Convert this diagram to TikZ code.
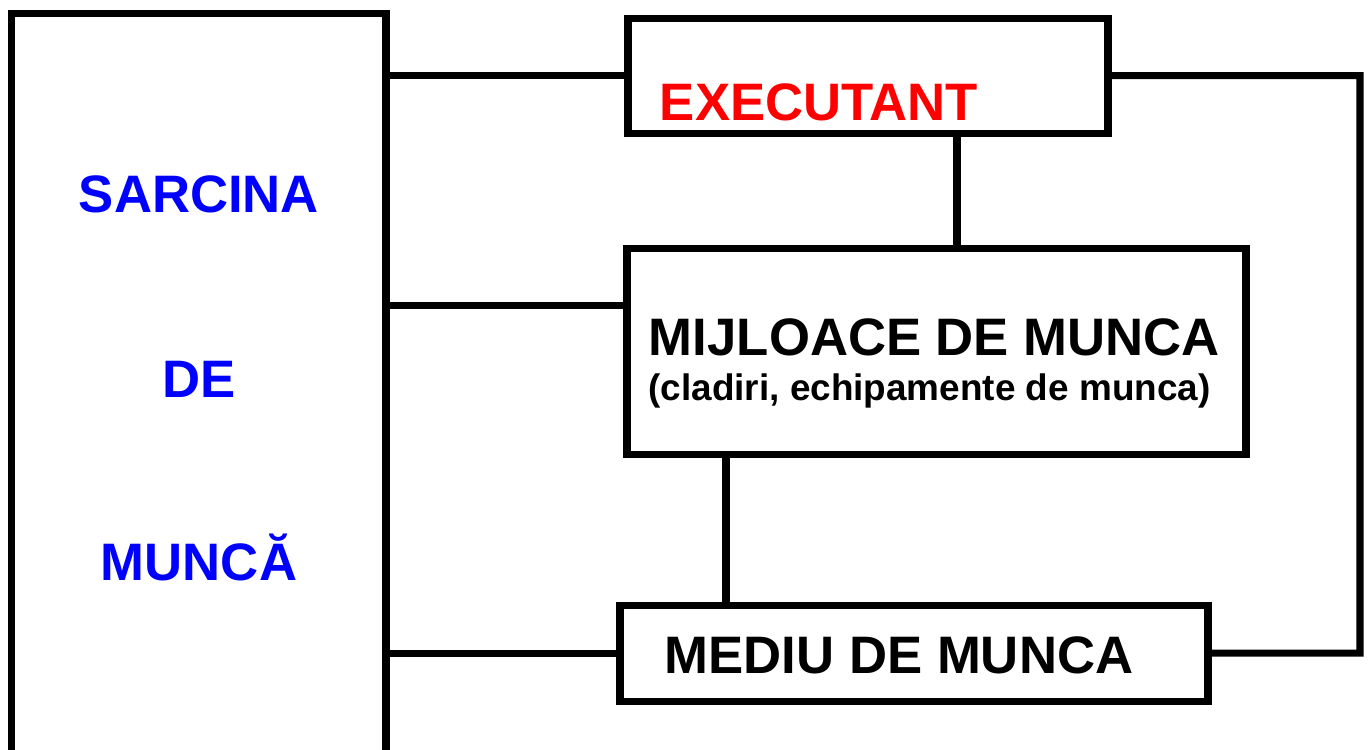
\documentclass[tikz,border=0pt]{standalone}
\usepackage{fontspec}
\setmainfont{Liberation Sans}
\usetikzlibrary{positioning, calc}

\newcommand{\capsfont}{\fontsize{15}{18}\selectfont\bfseries}
\newcommand{\smallcaps}{\fontsize{10.5}{12}\selectfont\bfseries}

\begin{document}
\begin{tikzpicture}[
  box/.style={draw, line width=2pt, rectangle, outer sep=0pt,
              inner sep=0pt, anchor=north west},
  link/.style={line width=2pt},
  every node/.style={font=\capsfont}
]
\useasboundingbox (0,0) rectangle (13.70,-7.49);

% ---- LEFT: task column (open at the bottom) ----
\node[box, minimum width=3.745cm, minimum height=8.2cm] (sarcina)
  at (0.115,-0.135) {};
\node[blue, anchor=base] (tsarcina) at (1.99,-2.12) {SARCINA};
\node[blue, anchor=base] (tde) at (1.99,-3.97) {DE};
\node[blue, anchor=base] (tmunca) at (1.99,-5.80) {MUNCĂ};

% ---- RIGHT: the three boxes ----
\node[box, minimum width=4.80cm, minimum height=1.15cm] (exec)
  at (6.28,-0.18) {};
\node[red, anchor=base] (texec) at (8.19,-1.20) {EXECUTANT};

\node[box, minimum width=6.19cm, minimum height=2.06cm] (mij)
  at (6.27,-2.48) {};
\node[anchor=base] (tmij) at (9.345,-3.55) {MIJLOACE DE MUNCA};
\node[anchor=base, font=\smallcaps] (tmijsub) at (9.295,-4.00)
  {(cladiri, echipamente de munca)};

\node[box, minimum width=5.88cm, minimum height=0.96cm] (mediu)
  at (6.20,-6.05) {};
\node[anchor=base] (tmediu) at (8.99,-6.73) {MEDIU DE MUNCA};

% ---- CONNECTORS ----
\coordinate (c1) at (9.57,0);
\coordinate (c2) at (7.26,0);
\coordinate (loop) at (13.60,-0.755);
\path (mij.north west) ++(0,-0.57) coordinate (mleft);

\draw[link] (exec.west -| sarcina.east) -- (exec.west);
\draw[link] (mleft -| sarcina.east) -- (mleft);
\draw[link] (mediu.west -| sarcina.east) -- (mediu.west);
\draw[link] (exec.south -| c1) -- (mij.north -| c1);
\draw[link] (mij.south -| c2) -- (mediu.north -| c2);
\draw[link] (exec.east) -- (loop) |- (mediu.east);

\end{tikzpicture}
\end{document}
